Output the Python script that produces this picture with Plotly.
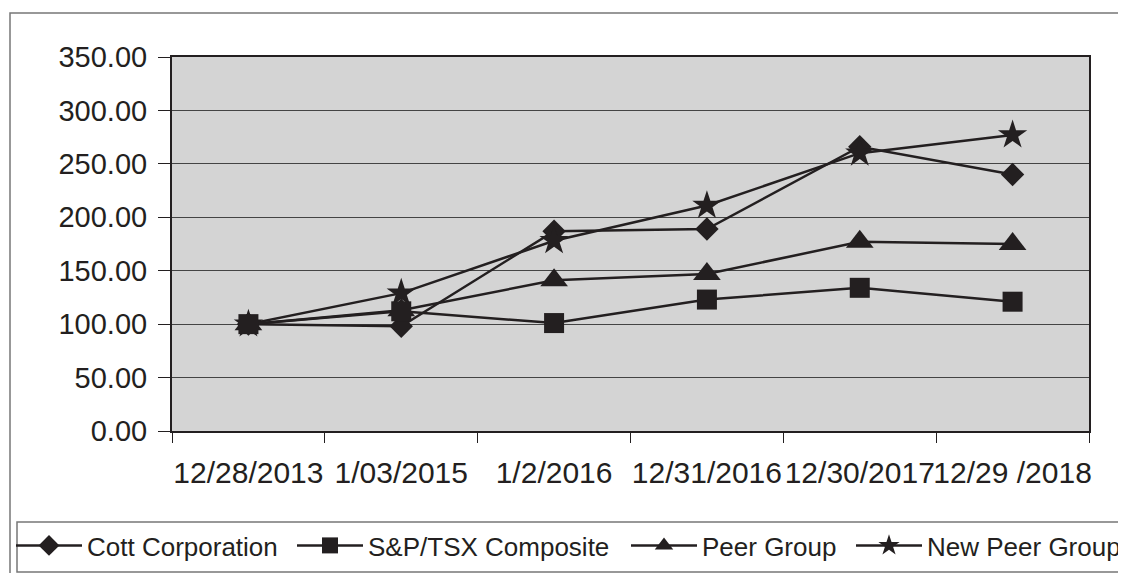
import plotly.graph_objects as go

categories = ["12/28/2013", "1/03/2015", "1/2/2016", "12/31/2016", "12/30/2017", "12/29 /2018"]
cott = [100, 98, 187, 189, 266, 240]
sp_tsx = [100, 112, 101, 123, 134, 121]
peer = [100, 113, 141, 147, 177, 175]
new_peer = [100, 129, 178, 211, 260, 277]

# (name, values, symbol, size, legend id, legend symbol x (screen px), draw order)
series = [
    ("Cott Corporation", cott, "diamond", 18, "legend", 49, 0),
    ("Peer Group", peer, "triangle-up", 24, "legend3", 664, 1),
    ("New Peer Group", new_peer, "star", 22, "legend4", 889, 2),
    ("S&P/TSX Composite", sp_tsx, "square", 20, "legend2", 330, 3),
]

INK = "#231f20"
FONT = "Liberation Sans, Arial, sans-serif"

fig = go.Figure()
for name, vals, sym, size, leg, _, _ in sorted(series, key=lambda s: s[6]):
    fig.add_trace(go.Scatter(
        x=categories, y=vals, name=name, mode="lines+markers",
        line=dict(color=INK, width=2.5),
        marker=dict(symbol=sym, size=size, color=INK, line=dict(width=0)),
        legend=leg,
    ))

# page has an 8px body margin, so figure coords = screen coords - 8
OFF = 8
W, H = 1126, 573
L, R, T, B = 172 - OFF, 1089 - OFF, 57 - OFF, 431 - OFF
pw, ph = R - L, B - T

def px_x(v):
    return (v - OFF - L) / pw

def px_y(v):
    return (B - (v - OFF)) / ph

ITEMW = 66
SYM_OFF = ITEMW / 2 + 5

legends = {}
for name, vals, sym, size, leg, sx, _ in series:
    legends[leg] = dict(
        orientation="h",
        x=px_x(sx - SYM_OFF), xanchor="left",
        y=px_y(522), yanchor="top",
        borderwidth=0,
        bgcolor="rgba(0,0,0,0)",
        font=dict(size=26, color=INK),
        itemwidth=ITEMW,
    )

fig.update_layout(
    width=W, height=H,
    margin=dict(l=L, r=W - R, t=T, b=H - B, autoexpand=False),
    paper_bgcolor="white",
    plot_bgcolor="#d4d4d4",
    font=dict(family=FONT, size=26, color=INK),
    showlegend=True,
    shapes=[
        dict(type="rect", xref="paper", yref="paper",
             x0=px_x(10), x1=px_x(1160), y0=px_y(620), y1=px_y(13),
             line=dict(color="#777777", width=1.5), fillcolor="rgba(0,0,0,0)",
             layer="below"),
        dict(type="rect", xref="paper", yref="paper",
             x0=px_x(17), x1=px_x(1160), y0=px_y(572), y1=px_y(522),
             line=dict(color="#777777", width=1.5), fillcolor="rgba(0,0,0,0)",
             layer="below"),
    ],
    **legends,
)

fig.update_xaxes(
    type="category",
    showgrid=False,
    showline=True, linecolor=INK, linewidth=2, mirror=True,
    ticks="outside", tickson="boundaries", ticklen=10, tickcolor=INK, tickwidth=1,
    tickfont=dict(size=30),
    tickangle=0,
    ticklabelstandoff=14,
    range=[-0.5, 5.5],
)
fig.update_yaxes(
    range=[0, 350], dtick=50, tickformat=".2f",
    showgrid=True, gridcolor="#444444", gridwidth=1,
    showline=True, linecolor=INK, linewidth=2, mirror=True,
    ticks="outside", ticklen=12, tickcolor=INK, tickwidth=1,
    tickfont=dict(size=29),
    ticklabelstandoff=5,
    zeroline=False,
)

fig.write_html("out.html")
